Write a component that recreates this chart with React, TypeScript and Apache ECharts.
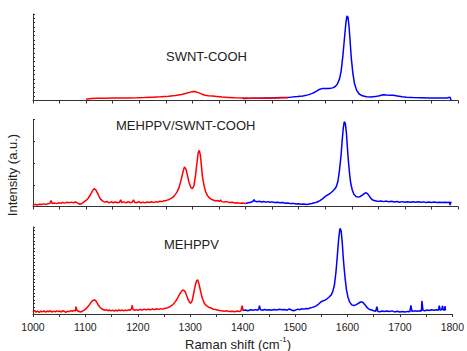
import React, { useEffect, useRef } from "react";
import * as echarts from "echarts";

// Raman spectra: [wavenumber (cm-1), intensity (a.u., 0-100 per panel)]
const swntRed: [number, number][] = [
  [1100, 1.5], [1110, 2.2], [1120, 2.5], [1135, 2.6], [1150, 2.8], [1165, 2.9], [1180, 3], [1195, 3.2],
  [1210, 3.5], [1225, 3.9], [1240, 4.3], [1255, 5], [1268, 5.8], [1280, 7], [1290, 8.6], [1298, 10],
  [1304, 10.4], [1310, 9.4], [1317, 7.6], [1324, 6], [1330, 5.4], [1338, 5.2], [1346, 4.7], [1356, 4],
  [1368, 3.6], [1380, 3.2], [1395, 3], [1410, 2.7], [1425, 2.5], [1440, 2.6], [1455, 2.8], [1470, 3.2], [1480, 3.3],
];
const swntBlue: [number, number][] = [
  [1395, 2.4], [1410, 2.5], [1425, 2.7], [1440, 2.9], [1455, 3.1], [1470, 3.5], [1485, 3.9], [1498, 4.5],
  [1508, 5.3], [1518, 6.5], [1526, 8.2], [1533, 10.5], [1539, 12.8], [1545, 14], [1552, 13.8], [1558, 14],
  [1564, 14.6], [1569, 16.2], [1573, 19], [1577, 25], [1580, 34], [1583, 50], [1586, 70], [1589, 90],
  [1591, 97.7], [1593, 96], [1595, 85], [1597, 68], [1599, 50], [1602, 32], [1605, 20], [1609, 12],
  [1614, 7.5], [1620, 5.4], [1628, 4.4], [1636, 4], [1644, 4.5], [1652, 5.6], [1659, 6.7], [1666, 6.3],
  [1672, 6.2], [1678, 6], [1686, 5.2], [1695, 4.3], [1703, 3.7], [1715, 3.5], [1730, 3.3], [1747, 2.9],
  [1762, 2.8], [1779, 2.9], [1785, 3.7], [1787, 0.2],
];
const compRed: [number, number][] = [
  [1000, 1.5], [1004, 2.5], [1008, 1.8], [1012, 2.6], [1016, 2.2], [1020, 3], [1024, 2.4], [1028, 3.2],
  [1032, 3.6], [1034, 6.8], [1036, 3.4], [1040, 4], [1044, 3.3], [1048, 4.2], [1052, 3.8], [1056, 4.6],
  [1060, 3.9], [1064, 4.8], [1068, 4.2], [1072, 5], [1076, 4.3], [1080, 5.2], [1084, 3.8], [1088, 2.6],
  [1092, 3.5], [1096, 5.2], [1100, 7], [1104, 9.5], [1108, 13.5], [1112, 18], [1115, 20.5], [1118, 19.5],
  [1121, 16], [1124, 12], [1127, 8.5], [1131, 6.5], [1135, 5], [1139, 5.8], [1143, 4.2], [1147, 5.4],
  [1151, 4.3], [1155, 5.2], [1159, 4.4], [1163, 5], [1165, 7.8], [1167, 4.6], [1171, 5.3], [1175, 4.2],
  [1179, 5.5], [1183, 4.4], [1187, 5.1], [1189, 7.8], [1191, 5], [1195, 4.4], [1199, 5.4], [1203, 4.3],
  [1207, 4.9], [1211, 4.2], [1215, 5.1], [1219, 4.6], [1223, 5.4], [1227, 4.5], [1231, 5.6], [1235, 5],
  [1239, 6], [1243, 5.6], [1247, 6.6], [1251, 7], [1255, 7.8], [1259, 9], [1263, 10.5], [1267, 13],
  [1271, 16.5], [1275, 22], [1279, 31], [1282, 39], [1285, 45.5], [1288, 43], [1291, 35], [1294, 27],
  [1297, 22], [1300, 20.5], [1303, 24], [1306, 36], [1309, 52], [1311, 62], [1313, 64.5], [1315, 59],
  [1317, 47], [1319, 34], [1322, 24], [1325, 17], [1328, 13], [1331, 10.5], [1335, 8.5], [1339, 7.5],
  [1343, 6.4], [1347, 6.8], [1351, 6], [1353, 7.5], [1355, 5.6], [1360, 5.2], [1365, 5.6], [1370, 4.5],
  [1375, 4.9], [1380, 4], [1385, 4.4], [1390, 3.6], [1395, 3.9], [1400, 3.4],
];
const compBlue: [number, number][] = [
  [1400, 3.5], [1405, 4.2], [1410, 4.8], [1414, 6], [1416, 8], [1418, 6], [1422, 5.4], [1426, 6],
  [1430, 5.2], [1434, 5.8], [1438, 5], [1442, 5.6], [1446, 4.8], [1450, 5.3], [1455, 4.6], [1460, 5],
  [1465, 4.2], [1470, 4.6], [1475, 3.8], [1480, 4.1], [1485, 3.3], [1490, 3.6], [1495, 2.8], [1500, 3.1],
  [1505, 2.5], [1510, 2.9], [1515, 2.4], [1520, 3], [1525, 3.4], [1530, 4.2], [1535, 5.2], [1540, 6.8],
  [1545, 8.8], [1550, 11.5], [1555, 13.5], [1560, 15.5], [1564, 17.5], [1568, 20], [1571, 23], [1574, 29],
  [1577, 42], [1580, 60], [1582, 76], [1584, 90], [1586, 97.5], [1588, 95], [1590, 84], [1592, 66],
  [1594, 50], [1596, 37], [1598, 27], [1601, 19], [1604, 14], [1608, 11.5], [1612, 10.8], [1616, 11.5],
  [1620, 13], [1624, 15], [1627, 15.8], [1630, 14.5], [1634, 11], [1638, 8], [1642, 6.8], [1646, 6.4],
  [1650, 5.9], [1655, 6.4], [1660, 5.6], [1665, 6.2], [1670, 5.4], [1675, 6], [1680, 5.2], [1685, 5.8],
  [1690, 5], [1695, 5.6], [1700, 4.9], [1705, 5.5], [1710, 4.8], [1715, 5.4], [1720, 4.9], [1725, 5.5],
  [1730, 4.8], [1735, 5.3], [1740, 4.7], [1745, 5.2], [1750, 4.6], [1755, 5.1], [1760, 4.5], [1765, 5],
  [1770, 4.5], [1775, 5], [1780, 4.6], [1784, 5], [1785, 1.5], [1786, 4.8], [1788, 4.6],
];
const mehRed: [number, number][] = [
  [1000, 2.5], [1003, 4], [1006, 2], [1009, 3.5], [1012, 1.8], [1015, 3.2], [1018, 2.4], [1021, 3.6],
  [1024, 2], [1027, 3.4], [1030, 2.6], [1033, 3.8], [1036, 2.2], [1039, 3.3], [1042, 2.5], [1045, 3.6],
  [1048, 2.8], [1051, 3.4], [1054, 2.3], [1057, 3.8], [1060, 2.9], [1063, 1.8], [1066, 3.3], [1069, 2.6],
  [1072, 3.9], [1075, 3], [1078, 4.2], [1081, 3.5], [1082, 8.4], [1084, 4], [1087, 3.2], [1090, 2.2],
  [1093, 2.8], [1096, 4], [1099, 5], [1102, 6.5], [1105, 8.5], [1108, 11], [1111, 13.5], [1114, 15.5],
  [1117, 16], [1119, 15.8], [1122, 13], [1125, 10], [1128, 7.5], [1131, 6], [1134, 5.2], [1137, 4.2],
  [1140, 5], [1143, 3.8], [1146, 4.6], [1149, 3.6], [1152, 4.5], [1155, 3.4], [1158, 4.4], [1161, 3.5],
  [1164, 4.6], [1167, 3.8], [1170, 4.8], [1173, 3.6], [1176, 4.5], [1179, 3.9], [1182, 4.8], [1185, 4.2],
  [1188, 6], [1189, 10], [1191, 5], [1194, 4.3], [1197, 5], [1200, 4.2], [1204, 5.2], [1208, 4.5],
  [1212, 5.6], [1216, 4.7], [1220, 5.5], [1224, 4.8], [1228, 5.8], [1232, 5], [1236, 6], [1240, 5.3],
  [1244, 6.2], [1248, 5.6], [1252, 6.6], [1256, 7], [1260, 8], [1264, 9.5], [1268, 11.5], [1272, 14.5],
  [1276, 18.5], [1280, 23], [1284, 26.5], [1287, 27.6], [1290, 26], [1293, 21.5], [1296, 16.5], [1299, 13],
  [1301, 12.4], [1304, 16], [1307, 25], [1310, 34], [1312, 38], [1314, 39.5], [1316, 36], [1318, 31],
  [1320, 25.5], [1323, 18], [1326, 13.5], [1329, 10.5], [1332, 9], [1336, 7.5], [1340, 6.8], [1344, 5.5],
  [1348, 5.2], [1352, 4.6], [1356, 4], [1360, 3.6], [1365, 3.2], [1370, 3.6], [1375, 2.8], [1380, 3.2],
  [1385, 2.6], [1390, 3.4], [1394, 2.8], [1397, 4], [1399, 9.6], [1401, 4],
];
const mehBlue: [number, number][] = [
  [1400, 4], [1405, 4.6], [1410, 3.8], [1415, 4.8], [1420, 4.2], [1425, 5], [1429, 4.4], [1431, 6],
  [1432, 9.6], [1434, 4.8], [1438, 4.3], [1442, 5.2], [1446, 4.5], [1450, 5], [1455, 4.3], [1460, 5.1],
  [1465, 4.6], [1470, 5.4], [1475, 4.8], [1480, 5.2], [1485, 4.4], [1489, 5.8], [1493, 4.6], [1497, 3.8],
  [1501, 4.5], [1505, 5.6], [1509, 5], [1513, 6], [1517, 5.6], [1521, 6.4], [1525, 6], [1529, 7],
  [1533, 7.6], [1537, 8.4], [1541, 9.6], [1545, 11.5], [1549, 13.8], [1553, 15], [1557, 16], [1561, 17.5],
  [1565, 19.5], [1569, 22], [1572, 26], [1575, 33], [1578, 48], [1581, 70], [1583, 85], [1585, 96],
  [1586, 98.5], [1588, 95], [1590, 82], [1592, 64], [1594, 50], [1596, 38], [1598, 28], [1601, 19],
  [1604, 14], [1608, 10.5], [1612, 9.8], [1616, 10.5], [1620, 12], [1624, 13.5], [1627, 14], [1630, 13],
  [1634, 10], [1638, 7], [1642, 5.2], [1646, 4.6], [1650, 3.8], [1654, 3.2], [1656, 8.5], [1658, 3],
  [1662, 2.6], [1666, 3.4], [1670, 2.8], [1675, 3.5], [1680, 2.9], [1685, 3.6], [1690, 2.4], [1695, 3.2],
  [1700, 2.2], [1705, 2.8], [1710, 2.3], [1715, 3], [1719, 2.6], [1721, 10], [1723, 3], [1728, 3.6],
  [1733, 3.2], [1738, 3.8], [1741, 3.5], [1742, 15], [1744, 4.2], [1748, 3.8], [1752, 4.5], [1756, 4],
  [1760, 4.8], [1765, 4.2], [1770, 4.9], [1774, 4.5], [1775, 9.6], [1777, 4.6], [1780, 5], [1781, 9.5],
  [1783, 4.8], [1785, 4.4], [1786, 9], [1787, 4], [1788, 3.5],
];

const panelLabels = ["SWNT-COOH", "MEHPPV/SWNT-COOH", "MEHPPV"];
const yTickIntervals = [5, 25, 4];
const xMin = 1000;
const xMax = 1800;
const xTickStep = 50;

const FONT = "'Liberation Sans', Arial, Helvetica, sans-serif";
const AXIS = "#333";

export default function App() {
  const ref = useRef<HTMLDivElement>(null);
  useEffect(() => {
    if (!ref.current) return;
    const chart = echarts.init(ref.current, null, { renderer: "svg" });
    const grids = [
      { left: 33, top: 14, width: 425, height: 86.5 },
      { left: 33, top: 119.5, width: 425, height: 87 },
      { left: 33, top: 227, width: 425, height: 87 },
    ];
    const xAxes = grids.map((_, i) => ({
      type: "value",
      gridIndex: i,
      min: xMin,
      max: xMax,
      interval: xTickStep,
      axisLine: { show: true, lineStyle: { color: AXIS, width: 1 } },
      axisTick: { show: true, inside: false, length: 3, lineStyle: { color: AXIS } },
      splitLine: { show: false },
      axisLabel: {
        show: i === 2,
        margin: 7,
        fontSize: 10.5,
        color: "#222",
        fontFamily: FONT,
        formatter: (v: number) => (v % 100 === 0 ? String(v) : ""),
      },
    }));
    const yAxes = grids.map((_, i) => ({
      type: "value",
      gridIndex: i,
      min: 0,
      max: 100,
      interval: yTickIntervals[i],
      axisLine: { show: true, lineStyle: { color: AXIS, width: 1 } },
      axisTick: { show: true, inside: true, length: 2, lineStyle: { color: AXIS } },
      axisLabel: { show: false },
      splitLine: { show: false },
    }));
    const mk = (data: [number, number][], color: string, idx: number) => ({
      type: "line",
      xAxisIndex: idx,
      yAxisIndex: idx,
      data,
      showSymbol: false,
      symbol: "none",
      lineStyle: { color, width: 1.5 },
      itemStyle: { color },
    });
    const labelPos = [
      { x: 166, y: 56 },
      { x: 116, y: 125 },
      { x: 164, y: 244 },
    ];
    chart.setOption({
      animation: false,
      backgroundColor: "#fff",
      grid: grids,
      xAxis: xAxes,
      yAxis: yAxes,
      series: [
        mk(swntBlue, "#0000ff", 0),
        mk(swntRed, "#ff0000", 0),
        mk(compBlue, "#0000ff", 1),
        mk(compRed, "#ff0000", 1),
        mk(mehBlue, "#0000ff", 2),
        mk(mehRed, "#ff0000", 2),
      ],
      graphic: [
        ...panelLabels.map((t, i) => ({
          type: "text",
          x: labelPos[i].x,
          y: labelPos[i].y,
          style: {
            text: t,
            fontSize: 13,
            fontFamily: FONT,
            fill: "#222",
            verticalAlign: "middle",
            align: "left",
          },
        })),
        {
          type: "text",
          x: 12.5,
          y: 175,
          rotation: Math.PI / 2,
          style: {
            text: "Intensity (a.u.)",
            fontSize: 13,
            fontFamily: FONT,
            fill: "#222",
            align: "center",
            verticalAlign: "middle",
          },
        },
        {
          type: "text",
          x: 185,
          y: 343,
          style: {
            text: "{n|Raman shift (cm}{s|-1}{n|)}",
            fontFamily: FONT,
            fill: "#222",
            align: "left",
            verticalAlign: "middle",
            rich: {
              n: { fontSize: 13, fontFamily: FONT, fill: "#222", lineHeight: 16, verticalAlign: "bottom" },
              s: { fontSize: 8, fontFamily: FONT, fill: "#222", lineHeight: 16, verticalAlign: "top", padding: [0, 0, 8, 0] },
            },
          },
        },
      ],
    });
    return () => chart.dispose();
  }, []);
  return (
    <div
      ref={ref}
      style={{ position: "absolute", left: 0, top: 0, width: 467, height: 351 }}
    />
  );
}
